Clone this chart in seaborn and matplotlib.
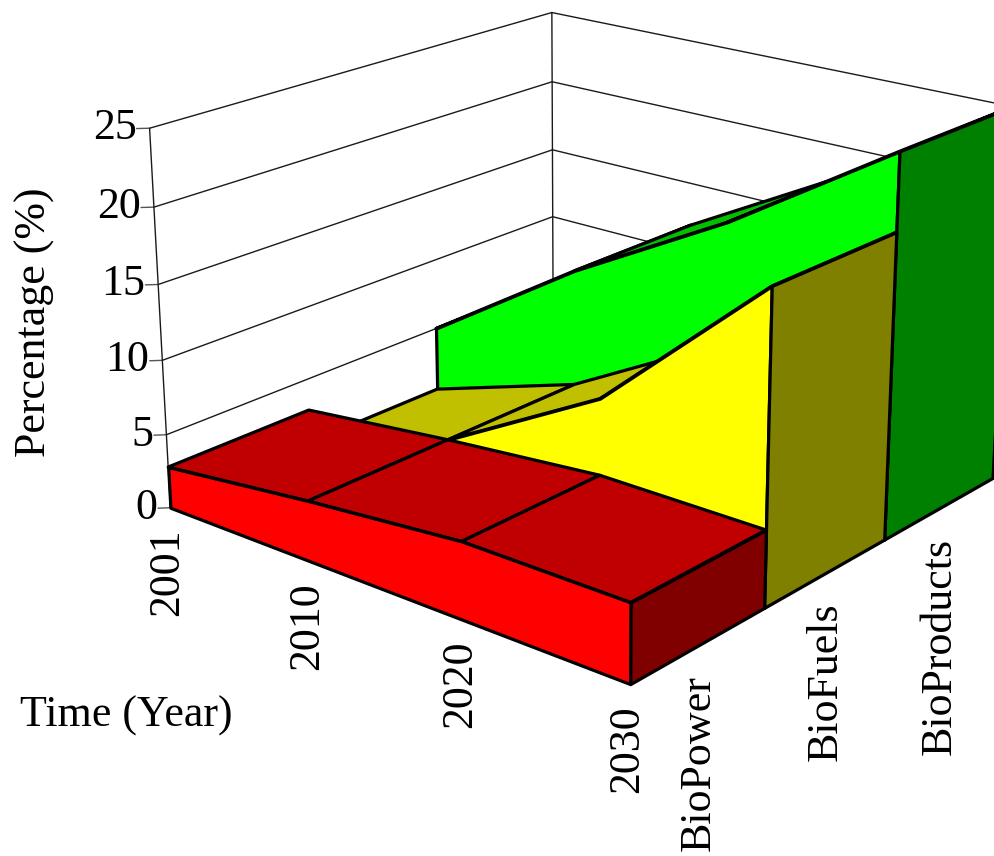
import matplotlib
matplotlib.use("Agg")
import matplotlib.pyplot as plt
import numpy as np
import seaborn as sns
from mpl_toolkits.mplot3d import proj3d
from mpl_toolkits.mplot3d.art3d import Poly3DCollection

years = ["2001", "2010", "2020", "2030"]
series = ["BioPower", "BioFuels", "BioProducts"]
biopower = [2.8, 4.0, 5.0, 5.0]
biofuels = [0.5, 4.0, 10.0, 20.0]
bioproducts = [5.0, 12.0, 18.0, 25.0]
z_ticks = [0, 5, 10, 15, 20, 25]

front_colors = ["#FF0000", "#FFFF00", "#00FF00"]
top_colors = ["#C00000", "#C0C000", "#00C000"]
end_colors = ["#800000", "#808000", "#008000"]

sns.set_theme(style="white")
plt.rcParams["font.family"] = ["Liberation Serif", "DejaVu Serif"]
FS = 31.7

W, H = 995, 856
fig = plt.figure(figsize=(W / 100, H / 100), dpi=100, facecolor="white")
# A large square 3D axes, offset so the box centre lands right of the figure centre
side = 1000
ax = fig.add_axes([73 / W, 33 / H, side / W, side / H], projection="3d")
box = np.array([565.0, 564.0, 377.0])
ax.set_proj_type("persp", focal_length=0.5236)
ax.view_init(elev=19.97, azim=-50.2)
ax.set_box_aspect(box, zoom=np.linalg.norm(box) / (1.8 * side / 1.85))
ax.set_xlim(0, 3)
ax.set_ylim(0, 3)
ax.set_zlim(0, 25)
ax.set_axis_off()
ax.patch.set_alpha(0)
ax.computed_zorder = False

x_pos = list(range(len(years)))
y_max = len(series)
x_max = len(years) - 1


def label_at(x, y, z, text, dx, dy, **kw):
    """Write upright screen text at a pixel offset from a 3D anchor point."""
    px, py, _ = proj3d.proj_transform(x, y, z, ax.get_proj())
    ax.annotate(text, xy=(px, py), xycoords="data", xytext=(dx, dy),
                textcoords="offset pixels", fontsize=FS, color="black",
                annotation_clip=False, zorder=50, **kw)


grid_kw = dict(color="#1a1a1a", lw=1.0, zorder=1)

# Walls: level lines on the left and back planes, then the vertical edges
for z in z_ticks:
    ax.plot([0, 0], [0, y_max], [z, z], **grid_kw)
    ax.plot([0, x_max], [y_max, y_max], [z, z], **grid_kw)
    ax.plot([-0.044, 0], [-0.044, 0], [z, z], color="#555555", lw=1.0, zorder=1)
    label_at(0, 0, z, str(z), -13, 0, ha="right", va="center")
for x, y in [(0, 0), (0, y_max), (x_max, y_max)]:
    ax.plot([x, x], [y, y], [0, 25], **grid_kw)

edge_kw = dict(edgecolors="black", linewidths=2.3, joinstyle="round")
values = [biopower, biofuels, bioproducts]
order = 10
# Painted from the rear series forward, each as top strip, front face, end cap
for i in reversed(range(len(series))):
    v = values[i]
    tops = [[(x_pos[k], i, v[k]), (x_pos[k + 1], i, v[k + 1]),
             (x_pos[k + 1], i + 1, v[k + 1]), (x_pos[k], i + 1, v[k])]
            for k in range(len(v) - 1)]
    front = [[(x_pos[0], i, 0)] + [(x_pos[k], i, v[k]) for k in range(len(v))]
             + [(x_pos[-1], i, 0)]]
    end = [[(x_max, i, 0), (x_max, i, v[-1]), (x_max, i + 1, v[-1]), (x_max, i + 1, 0)]]
    for verts, col in [(tops, top_colors[i]), (front, front_colors[i]), (end, end_colors[i])]:
        poly = Poly3DCollection(verts, facecolors=col, zorder=order, **edge_kw)
        ax.add_collection3d(poly, autolim=False)
        order += 1

for k, label in enumerate(years):
    label_at(x_pos[k], 0, 0, label, -3, -21, rotation=90, ha="center", va="top")
for i, label in enumerate(series):
    label_at(x_max, i + 0.5, 0, label, 0, -30, rotation=90, ha="center", va="top")

fig.text(35 / W, 1 - 322 / H, "Percentage (%)", rotation=90, ha="center", va="center",
         fontsize=FS, color="black")
fig.text(126 / W, 1 - 716 / H, "Time (Year)", ha="center", va="center",
         fontsize=FS, color="black")

fig.savefig("out.png", dpi=100, facecolor="white")
